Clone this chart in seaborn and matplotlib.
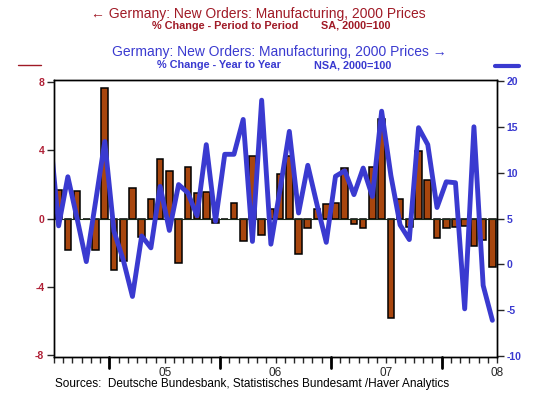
import numpy as np
import pandas as pd
import matplotlib
matplotlib.use("Agg")
import matplotlib.pyplot as plt
import seaborn as sns

# monthly data, Jan 2004 .. Dec 2007
mom_change = [1.64, -1.84, 1.58, 0.0, -1.84, 7.63, -3.03, -2.51, 1.78, -1.06,
              1.14, 3.46, 2.77, -2.63, 3.0, 1.49, 1.55, -0.25, 0.0, 0.91,
              -1.29, 3.63, -0.95, 0.56, 2.59, 3.63, -2.09, -0.58, 0.56, 0.83,
              0.91, 2.94, -0.35, -0.58, 3.0, 5.8, -5.8, 1.12, -0.52, 3.94,
              2.24, -1.16, -0.58, -0.52, -0.45, -1.6, -1.26, -2.84]
# year over year, starts one month earlier (Dec 2003, clipped by the axis)
yoy_change = [15.0, 4.2, 9.55, 5.0, 0.3, 6.8, 13.4, 3.6, 0.5, -3.5,
              3.1, 1.8, 8.5, 3.7, 8.7, 7.8, 5.3, 13.05, 4.7, 12.0,
              12.0, 15.8, 2.5, 17.9, 2.2, 8.2, 14.5, 5.6, 10.8, 6.5,
              2.4, 9.6, 10.2, 7.6, 10.5, 7.4, 16.7, 9.7, 4.3, 2.7,
              14.9, 13.05, 6.2, 9.0, 8.9, -4.85, 15.0, -2.3, -6.1]
year_labels = ["05", "06", "07", "08"]

RED = "#a01a26"
RED_TICK = "#b02036"
BLUE = "#3a3ad0"
BAR = "#a8460e"

sns.set_style("white")
plt.rcParams["font.family"] = ["Liberation Sans", "DejaVu Sans"]

bars = pd.DataFrame({"x": np.arange(len(mom_change)) + 0.5, "val": mom_change})
line = pd.DataFrame({"x": np.arange(len(yoy_change)) - 0.5, "val": yoy_change})

fig = plt.figure(figsize=(5.35, 3.98), dpi=100)
ax = fig.add_axes([54 / 535, 1 - 357 / 398, 443 / 535, 277 / 398])

sns.barplot(data=bars, x="x", y="val", native_scale=True, ax=ax, color=BAR,
            saturation=1, width=0.72, edgecolor="black", linewidth=1.1)
ax.axhline(0, color="#1a2a1a", linewidth=0.8, zorder=1)
ax.set_ylim(-8.1, 8.1)
ax.set_yticks([-8, -4, 0, 4, 8])
ax.set_yticklabels(["-8", "-4", "0", "4", "8"], color=RED_TICK,
                   fontsize=7.5, fontweight="bold")

ax2 = ax.twinx()
sns.lineplot(data=line, x="x", y="val", ax=ax2, color=BLUE, linewidth=3.5,
             solid_joinstyle="round")
ax2.set_ylim(-10.1, 20.1)
ax2.set_yticks([-10, -5, 0, 5, 10, 15, 20])
ax2.set_yticklabels(["-10", "-5", "0", "5", "10", "15", "20"], color=BLUE,
                    fontsize=7.5, fontweight="bold")

for a in (ax, ax2):
    a.set_xlim(0, 48)
    a.set_xlabel("")
    a.set_ylabel("")
    for s in a.spines.values():
        s.set_visible(True)
        s.set_color("black")
        s.set_linewidth(1.0)

ax.tick_params(axis="y", direction="out", length=5, width=1, pad=2, left=True)
ax2.tick_params(axis="y", direction="out", length=5, width=1, pad=2, right=True)

# month ticks, long ticks mid-year, labels at year starts
ax.set_xticks(np.arange(0, 49), minor=True)
ax.set_xticks([12, 24, 36, 48])
ax.set_xticklabels(year_labels, fontsize=8.5)
ax.tick_params(axis="x", which="major", length=4, width=1, pad=3, bottom=True)
ax.tick_params(axis="x", which="minor", length=4, width=1, bottom=True)
for xm in [6, 18, 30, 42]:
    ax.plot([xm, xm], [0, -0.04], transform=ax.get_xaxis_transform(),
            color="black", linewidth=2, clip_on=False)

# titles
def px(x, y):
    return x / 535, 1 - y / 398

fig.text(*px(258, 14), "\u2190 Germany: New Orders: Manufacturing, 2000 Prices",
         color=RED, fontsize=10, ha="center", va="center")
fig.text(*px(152, 26), "% Change - Period to Period", color=RED,
         fontsize=7.8, fontweight="bold", ha="left", va="center")
fig.text(*px(321, 26), "SA, 2000=100", color=RED,
         fontsize=7.8, fontweight="bold", ha="left", va="center")
fig.text(*px(279, 52), "Germany: New Orders: Manufacturing, 2000 Prices \u2192",
         color=BLUE, fontsize=10, ha="center", va="center")
fig.text(*px(157, 65), "% Change - Year to Year", color=BLUE,
         fontsize=7.8, fontweight="bold", ha="left", va="center")
fig.text(*px(314, 65), "NSA, 2000=100", color=BLUE,
         fontsize=7.8, fontweight="bold", ha="left", va="center")

fig.add_artist(plt.Line2D([18 / 535, 41 / 535], [1 - 65 / 398] * 2,
                          color=RED, linewidth=1))
fig.add_artist(plt.Line2D([495 / 535, 519 / 535], [1 - 66 / 398] * 2,
                          color=BLUE, linewidth=3))

fig.text(*px(55, 384), "Sources:  Deutsche Bundesbank, Statistisches Bundesamt /Haver Analytics",
         color="black", fontsize=8.5, ha="left", va="center")

fig.savefig("out.png", dpi=100)
